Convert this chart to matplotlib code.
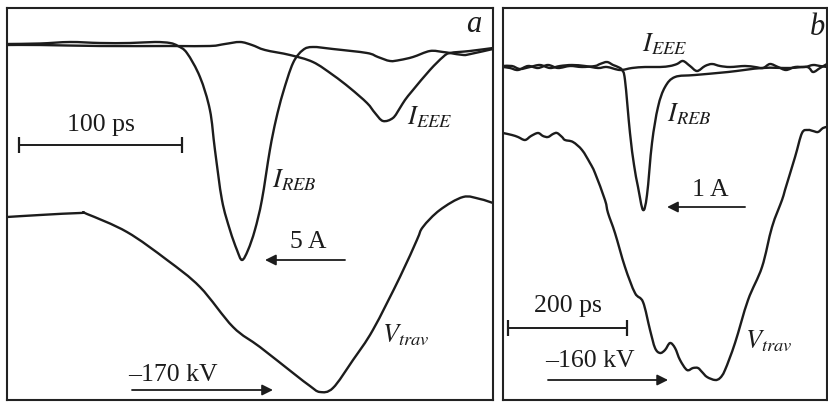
import matplotlib
matplotlib.use("Agg")
import matplotlib.pyplot as plt
import numpy as np
from matplotlib.path import Path
from matplotlib.patches import PathPatch

plt.rcParams['font.family'] = ['Liberation Serif', 'DejaVu Serif']
plt.rcParams['mathtext.fontset'] = 'stix'

# ---- panel a (time in ps, vertical deflection in screen units, downwards) ----
a_reb_t = [0, 20.2, 38.7, 57.1, 75.5, 90.8, 100, 104.9, 110.4, 118.4, 124.5, 127.6,
           131.9, 136.8, 141.1, 144.2, 147.9, 152.1, 156.4, 161.3, 165, 169.3, 175.5,
           181.6, 187.7, 200, 220.9, 227.6, 235, 241.1, 249.1, 259.5, 267.5, 271.8,
           280, 284.4, 298.2]
a_reb_y = [36, 35.5, 34, 35, 35, 34, 35, 38, 45, 69, 102, 142,
           192, 222, 242, 252, 242, 222, 192, 142, 112, 85, 55,
           42, 39, 41, 45, 49, 53, 52, 49, 43, 44, 45,
           47, 46, 41]

a_eee_t = [0, 20.2, 57.1, 100, 124.5, 133.7, 143, 150.3, 158.3, 173.6, 187.7, 200,
           210.4, 220.9, 225.8, 230.7, 236.8, 241.1, 244.2, 249.1, 259.5, 267.5,
           271.8, 284, 298.2]
a_eee_y = [37, 37, 38, 38, 38, 36, 34, 37, 42, 47, 54, 67,
           80, 95, 105, 113, 110, 100, 92, 82, 62, 49,
           45, 43, 40]

a_v_t = [0, 20.2, 44.8, 49.1, 73.6, 98.2, 118.4, 138.7, 155.2, 175.5, 185.9, 192,
         200, 212.3, 224.5, 241.1, 251.5, 255.2, 265.6, 279.8, 290.2, 298.2]
a_v_y = [209, 207, 205, 206, 224, 252, 279, 319, 339, 365, 378, 384,
         380, 352, 322, 269, 232, 219, 202, 189, 191, 195]

# ---- panel b ----
b_reb_t = [0, 11.8, 25.2, 42, 58.8, 75.6, 92.4, 112.6, 132.8, 154.6, 163, 174.8,
           185, 193.3, 200, 205, 213.4, 220.2, 226.9, 235.3, 242, 250.4, 260.5,
           272.3, 289.1, 322.7, 378.2, 435.3, 482.4, 511, 521, 532.8, 544.5]
b_reb_y = [59, 60, 62, 58, 60, 57, 60, 58, 59, 58, 56, 54,
           57, 59, 62, 72, 125, 157, 179, 202, 187, 135, 99,
           79, 69, 67, 64, 60, 60, 59, 64, 60, 56]

b_eee_t = [0, 15.1, 28.6, 45.4, 62.2, 79, 95.8, 116, 137.8, 159.7, 174.8, 196.6,
           216.8, 238.7, 263.9, 280.7, 292.4, 302.5, 314.3, 326.1, 339.5, 351.3,
           364.7, 381.5, 406.7, 423.5, 437, 448.7, 462.2, 475.6, 490.8, 507.6,
           521, 532.8, 544.5]
b_eee_y = [58, 58, 61, 59, 57, 60, 58, 57, 58, 60, 59, 62,
           60, 59, 59, 58, 56, 53, 58, 63, 58, 56,
           58, 59, 58, 59, 60, 56, 59, 62, 59, 59,
           57, 58, 59]

b_v_t = [0, 15.1, 25.2, 37, 47.1, 58.8, 67.2, 75.6, 84, 90.8, 99.2, 104.2, 117.6,
         132.8, 146.2, 154.6, 171.4, 176.5, 188.2, 205, 221.8, 235.3, 247.1, 255.5,
         263.9, 272.3, 280.7, 289.1, 297.5, 309.2, 319.3, 327.7, 334.5, 342.9,
         356.3, 364.7, 373.1, 389.9, 411.8, 435.3, 452.1, 468.9, 473.9, 490.8,
         502.5, 512.6, 521, 529.4, 537.8, 544.5]
b_v_y = [125, 127, 129, 132, 128, 125, 128, 129, 126, 125, 129, 132, 134,
         142, 155, 165, 192, 205, 225, 259, 285, 294, 322, 340,
         345, 342, 335, 340, 352, 362, 360, 360, 364, 369,
         372, 370, 362, 335, 292, 259, 219, 192, 182, 149,
         125, 122, 123, 124, 120, 119]

LINE = '#1c1c1c'
FS = 18.5


def trace(ax, t, y):
    # smooth curve through the read points (Catmull-Rom drawn as cubic Beziers)
    p = np.column_stack([t, y]).astype(float)
    n = len(p)
    verts = [p[0]]
    codes = [Path.MOVETO]
    for i in range(n - 1):
        p0, p1, p2, p3 = p[max(i - 1, 0)], p[i], p[i + 1], p[min(i + 2, n - 1)]
        verts += [p1 + (p2 - p0) / 6, p2 - (p3 - p1) / 6, p2]
        codes += [Path.CURVE4] * 3
    ax.add_patch(PathPatch(Path(verts, codes), fill=False, edgecolor=LINE, lw=1.7,
                           joinstyle='round', capstyle='round'))


def scale_bar(ax, t0, t1, y, label, ty):
    ax.plot([t0, t1], [y, y], color=LINE, lw=1.4, marker='|', ms=11, mew=1.6)
    ax.text((t0 + t1) / 2, ty, label, ha='center', va='center', fontsize=FS, color=LINE)


def arrow(ax, t_from, t_to, y):
    ax.annotate('', xy=(t_to, y), xytext=(t_from, y),
                arrowprops=dict(arrowstyle='-|>', color=LINE, lw=1.3,
                                mutation_scale=16, shrinkA=0, shrinkB=0))


fig = plt.figure(figsize=(8.29, 4.09), dpi=100)
W, H = 829, 409
ax_a = fig.add_axes([7 / W, (H - 400) / H, 486 / W, 392 / H])
ax_b = fig.add_axes([503 / W, (H - 400) / H, 324 / W, 392 / H])

for ax, tmax in ((ax_a, 298.2), (ax_b, 544.5)):
    ax.set_xlim(0, tmax)
    ax.set_ylim(392, 0)
    ax.set_xticks([])
    ax.set_yticks([])
    for s in ax.spines.values():
        s.set_linewidth(1.5)
        s.set_color('#222222')

# panel a
trace(ax_a, a_eee_t, a_eee_y)
trace(ax_a, a_reb_t, a_reb_y)
trace(ax_a, a_v_t, a_v_y)
ax_a.text(286.5, 16, 'a', fontsize=22, style='italic', ha='center', va='center', color=LINE)
scale_bar(ax_a, 7.4, 107.4, 137, '100 ps', 117)
ax_a.text(245.4, 109, r'$I_{EEE}$', fontsize=19, ha='left', va='center', color=LINE)
ax_a.text(162.6, 172, r'$I_{REB}$', fontsize=19, ha='left', va='center', color=LINE)
ax_a.text(230, 327, r'$V_{trav}$', fontsize=19, ha='left', va='center', color=LINE)
ax_a.text(184.7, 234, '5 A', fontsize=FS, ha='center', va='center', color=LINE)
arrow(ax_a, 207.4, 158.3, 252)
ax_a.text(101.8, 367, '\u2013170 kV', fontsize=FS, ha='center', va='center', color=LINE)
arrow(ax_a, 76.7, 163.2, 382)

# panel b
trace(ax_b, b_eee_t, b_eee_y)
trace(ax_b, b_reb_t, b_reb_y)
trace(ax_b, b_v_t, b_v_y)
ax_b.text(527.8, 19, 'b', fontsize=22, style='italic', ha='center', va='center', color=LINE)
ax_b.text(233.6, 36, r'$I_{EEE}$', fontsize=19, ha='left', va='center', color=LINE)
ax_b.text(275.7, 106, r'$I_{REB}$', fontsize=19, ha='left', va='center', color=LINE)
ax_b.text(406.8, 333, r'$V_{trav}$', fontsize=19, ha='left', va='center', color=LINE)
ax_b.text(348, 182, '1 A', fontsize=FS, ha='center', va='center', color=LINE)
arrow(ax_b, 406.8, 275.7, 199)
scale_bar(ax_b, 8.4, 208.4, 320, '200 ps', 298)
ax_b.text(146.2, 353, '\u2013160 kV', fontsize=FS, ha='center', va='center', color=LINE)
arrow(ax_b, 75.6, 277.4, 372)

fig.savefig('out.png', dpi=100)
